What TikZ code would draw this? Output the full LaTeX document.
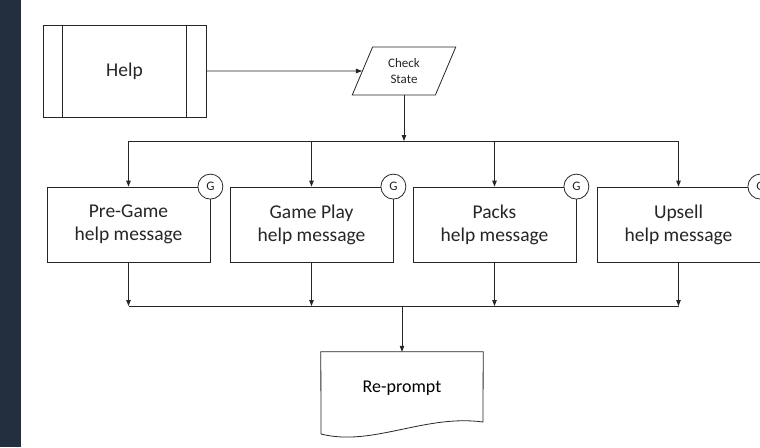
\documentclass[tikz,border=0pt]{standalone}
\usepackage{fontspec}
\setmainfont{Carlito}
\usepackage{tikz}
\usetikzlibrary{positioning}
\usetikzlibrary{shapes.geometric}
\usetikzlibrary{arrows.meta}
\usepackage{xcolor}

\definecolor{sidebar}{HTML}{232F3E}

\tikzset{
  line/.style={black!85, line width=0.8pt},
  flow/.style={line, -{Triangle[length=6pt,width=4.5pt]}},
  msgbox/.style={line, draw, fill=white, minimum width=163pt, minimum height=75pt,
    align=center, inner sep=0pt, font=\fontsize{19.5}{23}\selectfont},
  gmark/.style={line, draw, circle, fill=white, minimum size=25pt, inner sep=0pt,
    font=\fontsize{13}{13}\selectfont}
}

\begin{document}
\begin{tikzpicture}[x=1pt, y=-1pt]
\useasboundingbox (0,0) rectangle (760,447);

% side bar
\fill[sidebar] (0,0) rectangle (21,447);

% top row
{
\node[line, draw, minimum width=163pt, minimum height=92pt, inner sep=0pt,
  font=\fontsize{19.5}{23}\selectfont] (help) at (124.5,71) {Help};
\draw[line] ([xshift=20pt]help.north west) -- ([xshift=20pt]help.south west);
\draw[line] ([xshift=-20pt]help.north east) -- ([xshift=-20pt]help.south east);

\node[line, draw, trapezium, trapezium left angle=67.4, trapezium right angle=112.6,
  trapezium stretches=true, minimum width=104pt, minimum height=48pt, inner sep=0pt,
  align=center, font=\fontsize{13}{15.5}\selectfont] (check) at (404,71) {Check\\State};

\draw[flow] (help.east) -- (check.west);
}

% help messages
{
\node[msgbox] (pregame) at (128.5,224.5) {Pre-Game\\help message};
\node[msgbox] (gameplay) at (311.5,224.5) {Game Play\\help message};
\node[msgbox] (packs) at (494.5,224.5) {Packs\\help message};
\node[msgbox] (upsell) at (678.5,224.5) {Upsell\\help message};

\foreach \m in {pregame,gameplay,packs,upsell}
  \node[gmark] (\m-g) at (\m.north east) {G};
}

% re-prompt
{
\node[minimum width=162pt, minimum height=72pt, inner sep=0pt,
  font=\fontsize{18}{22}\selectfont] (reprompt) at (402,388) {Re-prompt};
\draw[line] (reprompt.north west) -- (reprompt.north east) -- (483,422)
  .. controls (425,414) and (372,447) .. (321,434) -- cycle;
}

% connectors
{
\coordinate (topl) at (128.5,141);
\coordinate (topr) at (678.5,141);
\coordinate (botl) at (128.5,306);
\coordinate (botr) at (678.5,306);

\draw[line] (topl) -- (topr);
\draw[flow] (check.south) -- (check.south |- topl);
\foreach \m in {pregame,gameplay,packs,upsell}
  \draw[flow] (\m.north |- topl) -- (\m.north);

\draw[line] (botl) -- (botr);
\foreach \m in {pregame,gameplay,packs,upsell}
  \draw[flow] (\m.south) -- (\m.south |- botl);
\draw[flow] (reprompt.north |- botl) -- (reprompt.north);
}

\end{tikzpicture}
\end{document}
